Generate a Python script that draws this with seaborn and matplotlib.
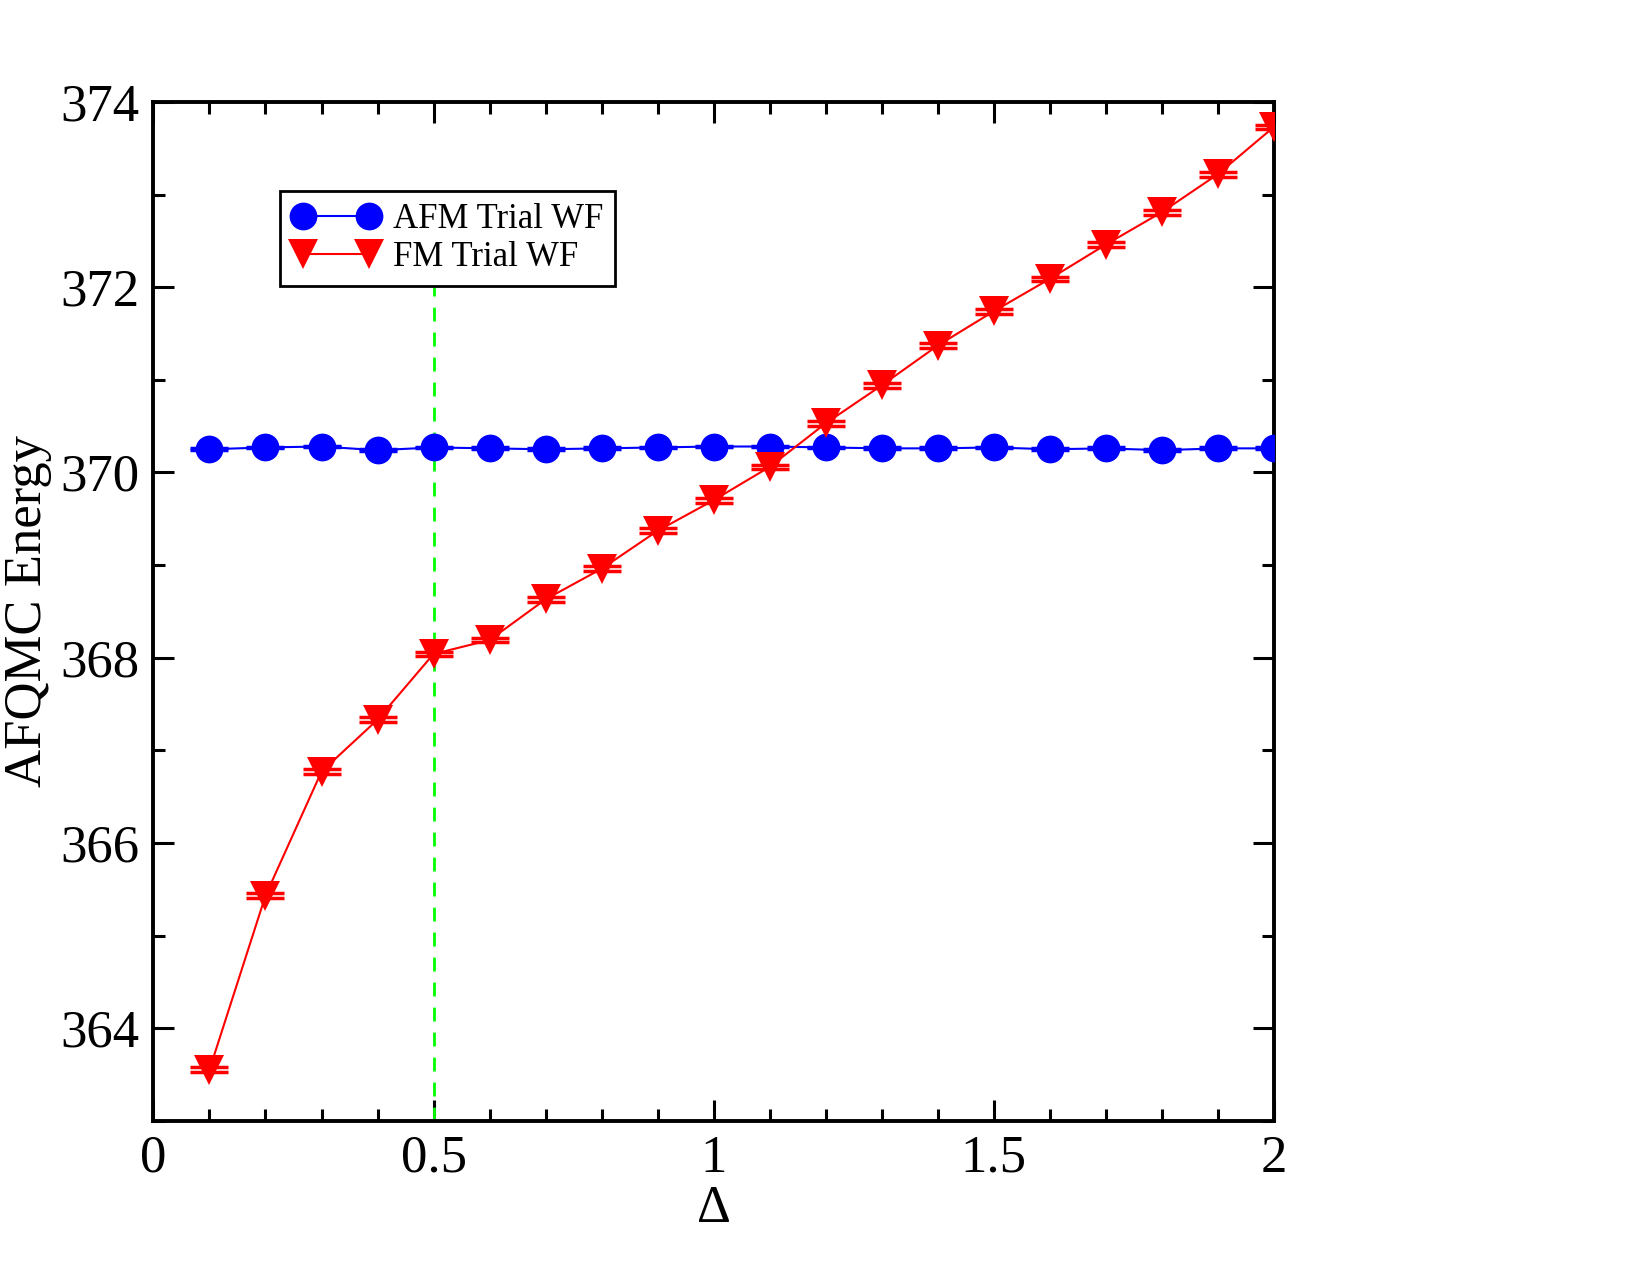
import numpy as np
import pandas as pd
import matplotlib
matplotlib.use('Agg')
import matplotlib.pyplot as plt
import seaborn as sns
from matplotlib.ticker import MultipleLocator

# Values
delta = [0.1, 0.2, 0.3, 0.4, 0.5, 0.6, 0.7, 0.8, 0.9, 1.0,
         1.1, 1.2, 1.3, 1.4, 1.5, 1.6, 1.7, 1.8, 1.9, 2.0]
afm_energy = [370.25, 370.27, 370.28, 370.24, 370.27, 370.26, 370.25, 370.26, 370.27, 370.28,
              370.28, 370.27, 370.26, 370.26, 370.27, 370.25, 370.26, 370.24, 370.26, 370.26]
afm_err = [0.01] * 20
fm_energy = [363.55, 365.43, 366.77, 367.33, 368.04, 368.19, 368.63, 368.96, 369.37, 369.70,
             370.06, 370.53, 370.94, 371.37, 371.74, 372.09, 372.46, 372.81, 373.22, 373.73]
fm_err = [0.025] * 20

afm = pd.DataFrame({'Delta': delta, 'Energy': afm_energy, 'err': afm_err})
fm = pd.DataFrame({'Delta': delta, 'Energy': fm_energy, 'err': fm_err})

sns.set_style('ticks')
plt.rcParams['font.family'] = ['Liberation Serif', 'DejaVu Serif']
plt.rcParams['text.color'] = 'black'
plt.rcParams['axes.labelcolor'] = 'black'
plt.rcParams['axes.edgecolor'] = 'black'
plt.rcParams['xtick.color'] = 'black'
plt.rcParams['ytick.color'] = 'black'

fig = plt.figure(figsize=(16.5, 12.75), dpi=100)
ax = fig.add_axes([0.093, 0.121, 0.679, 0.799])

# green dashed marker line at Delta = 0.5
ax.plot([0.5, 0.5], [363, 372.0], color='#00ff00', linestyle=(0, (5, 4)), linewidth=2, zorder=1)

# error bars
ax.errorbar(afm['Delta'], afm['Energy'], yerr=afm['err'], fmt='none', ecolor='blue',
            capsize=14, capthick=2.5, elinewidth=2, zorder=2)
ax.errorbar(fm['Delta'], fm['Energy'], yerr=fm['err'], fmt='none', ecolor='red',
            capsize=14, capthick=2.5, elinewidth=2, zorder=2)

sns.lineplot(data=afm, x='Delta', y='Energy', ax=ax, color='blue', marker='o',
             markersize=20, markeredgewidth=0, linewidth=1.5, label='AFM Trial WF', zorder=3)
sns.lineplot(data=fm, x='Delta', y='Energy', ax=ax, color='red', marker='v',
             markersize=21, markeredgewidth=0, linewidth=1.5, label='FM Trial WF', zorder=3)

ax.set_xlim(0, 2)
ax.set_ylim(363, 374)
ax.xaxis.set_minor_locator(MultipleLocator(0.1))
ax.yaxis.set_major_locator(MultipleLocator(2))
ax.yaxis.set_minor_locator(MultipleLocator(1))
ax.set_xticks([0, 0.5, 1, 1.5, 2])
ax.set_xticklabels(['0', '0.5', '1', '1.5', '2'])

ax.tick_params(which='both', direction='in', top=True, right=True, labelsize=38, width=2.2, pad=10)
ax.tick_params(which='major', length=15)
ax.tick_params(which='minor', length=8.5)
for s in ax.spines.values():
    s.set_linewidth(2.8)
    s.set_visible(True)

ax.set_xlabel('Δ', fontsize=38, labelpad=2)
ax.set_ylabel('AFQMC Energy', fontsize=38, labelpad=6)

leg = ax.legend(loc='upper left', bbox_to_anchor=(0.113, 0.913), numpoints=2, fontsize=25,
                frameon=True, fancybox=False, framealpha=1, edgecolor='black',
                handlelength=2.5, borderpad=0.35, labelspacing=0.15, handletextpad=0.4,
                borderaxespad=0)
leg.get_frame().set_linewidth(2)

fig.savefig('out.png', dpi=100)
